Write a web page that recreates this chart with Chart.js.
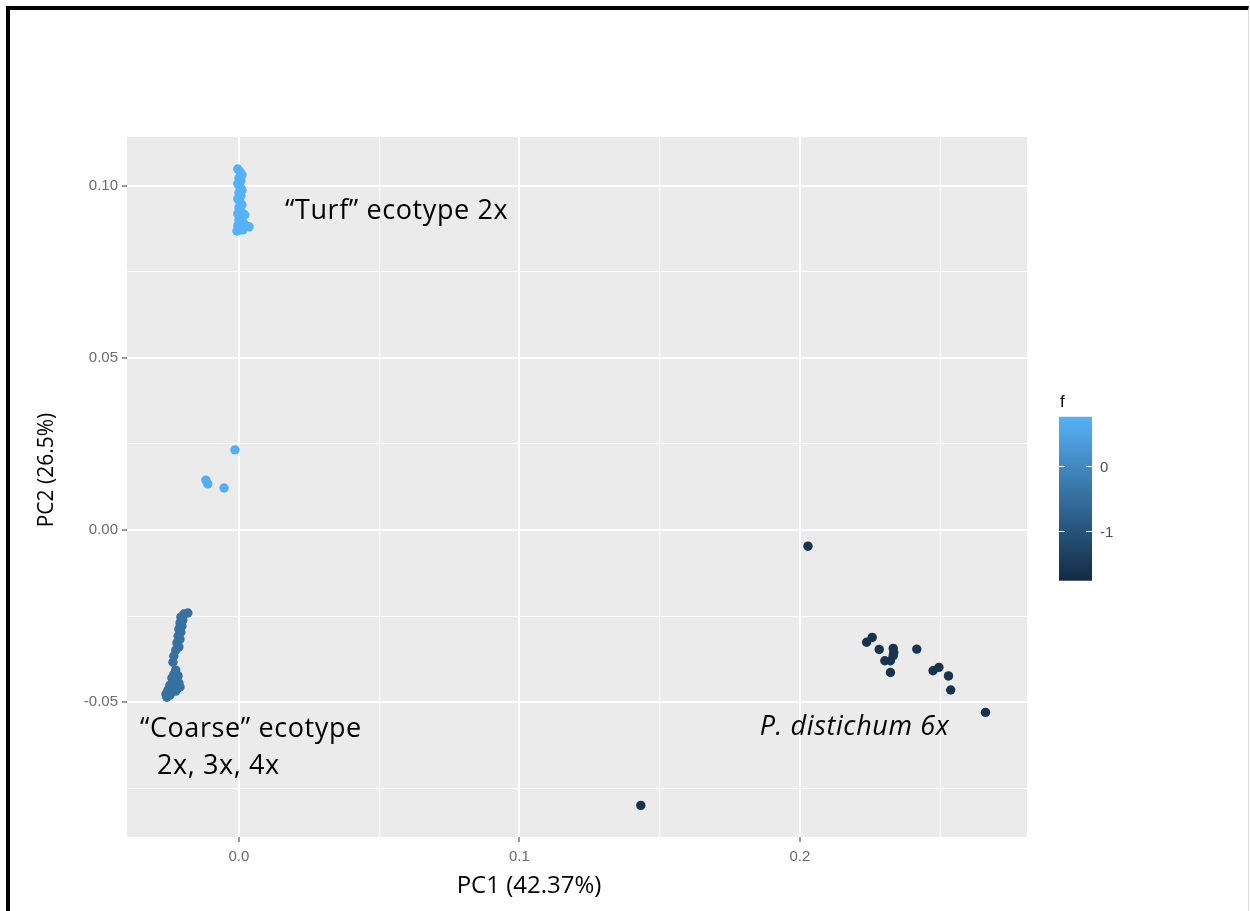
<!DOCTYPE html>
<html>
<head>
<meta charset="utf-8">
<script src="https://cdn.jsdelivr.net/npm/chart.js@4.4.1/dist/chart.umd.min.js"></script>
<style>
  body { margin: 0; background: #fff; }
  #frame {
    position: absolute; left: 6px; top: 6px; right: 1px; bottom: -10px;
    border-top: 4px solid #000; border-left: 4px solid #000; border-right: 1px solid #ddd;
  }
  #pca { position: absolute; left: 0; top: 0; }
</style>
</head>
<body>
<div id="frame"></div>
<canvas id="pca" width="1250" height="911"></canvas>
<script>
// PC1 / PC2 scores
const turfPC1 = [-0.0004, 0.0004, 0.0011, 0.0000, 0.0007, -0.0004, 0.0004, 0.0011, 0.0000, 0.0007, -0.0004, 0.0004, 0.0011, 0.0000, 0.0007, -0.0004, 0.0004, 0.0014, 0.0021, 0.0000, 0.0011, 0.0018, -0.0004, 0.0007, 0.0025, 0.0036, 0.0004, 0.0014, -0.0007];
const turfPC2 = [0.1049, 0.1041, 0.1032, 0.1023, 0.1015, 0.1006, 0.0997, 0.0988, 0.0980, 0.0971, 0.0962, 0.0953, 0.0945, 0.0936, 0.0927, 0.0919, 0.0913, 0.0910, 0.0916, 0.0901, 0.0895, 0.0890, 0.0884, 0.0878, 0.0881, 0.0881, 0.0872, 0.0872, 0.0869];

const midPC1 = [-0.0014, -0.0118, -0.0111, -0.0053];
const midPC2 = [0.0233, 0.0145, 0.0134, 0.0122];

const coarsePC1 = [-0.0182, -0.0196, -0.0207, -0.0200, -0.0210, -0.0203, -0.0214, -0.0207, -0.0217, -0.0210, -0.0221, -0.0214, -0.0225, -0.0232, -0.0235, -0.0225, -0.0232, -0.0217, -0.0239, -0.0228, -0.0214, -0.0246, -0.0232, -0.0217, -0.0253, -0.0239, -0.0225, -0.0260, -0.0246, -0.0257, -0.0210, -0.0239];
const coarsePC2 = [-0.0241, -0.0244, -0.0253, -0.0262, -0.0270, -0.0279, -0.0288, -0.0297, -0.0308, -0.0317, -0.0328, -0.0340, -0.0349, -0.0366, -0.0384, -0.0407, -0.0419, -0.0424, -0.0430, -0.0439, -0.0445, -0.0451, -0.0456, -0.0459, -0.0465, -0.0471, -0.0468, -0.0477, -0.0480, -0.0486, -0.0456, -0.0448];

const distichumPC1 = [0.2238, 0.2258, 0.2283, 0.2333, 0.2335, 0.2333, 0.2303, 0.2323, 0.2323, 0.2417, 0.2475, 0.2496, 0.2530, 0.2538, 0.2662, 0.2029, 0.1433];
const distichumPC2 = [-0.0326, -0.0312, -0.0347, -0.0344, -0.0356, -0.0365, -0.0380, -0.0380, -0.0414, -0.0346, -0.0409, -0.0399, -0.0424, -0.0465, -0.0530, -0.0047, -0.0800];

// colour variable f, one value per group
const groupF = [0.75, 0.70, -0.45, -1.62];

const xTicks = [0, 0.1, 0.2];
const xTickLabels = ['0.0', '0.1', '0.2'];
const xMinor = [0.05, 0.15, 0.25];
const yTicks = [-0.05, 0, 0.05, 0.10];
const yTickLabels = ['-0.05', '0.00', '0.05', '0.10'];
const yMinor = [-0.075, -0.025, 0.025, 0.075];

const fTicks = [0, -1];
const fTickLabels = ['0', '-1'];
const fLimits = [-1.765, 0.758];

const annotations = [
  { text: '\u201CTurf\u201D ecotype 2x', x: 0.0164, y: 0.0927, italic: false },
  { text: '\u201CCoarse\u201D ecotype', x: -0.0353, y: -0.0578, italic: false },
  { text: '2x, 3x, 4x', x: -0.0292, y: -0.0686, italic: false },
  { text: 'P. distichum 6x', x: 0.1857, y: -0.0573, italic: true }
];

const lowCol = [19, 43, 67];    // #132B43
const highCol = [86, 177, 247]; // #56B1F7

function fColour(f) {
  const t = (f - fLimits[0]) / (fLimits[1] - fLimits[0]);
  const c = lowCol.map((v, i) => Math.round(v + (highCol[i] - v) * t));
  return 'rgb(' + c.join(',') + ')';
}

function pts(xs, ys) {
  return xs.map((v, i) => ({ x: v, y: ys[i] }));
}

function near(a, list) {
  return list.findIndex(v => Math.abs(v - a) < 1e-9);
}

const groups = [pts(turfPC1, turfPC2), pts(midPC1, midPC2), pts(coarsePC1, coarsePC2), pts(distichumPC1, distichumPC2)];

const panelBg = {
  id: 'panelBg',
  beforeDraw(chart) {
    const { ctx, chartArea: a } = chart;
    ctx.save();
    ctx.fillStyle = '#EBEBEB';
    ctx.fillRect(a.left, a.top, a.right - a.left, a.bottom - a.top);
    ctx.restore();
  }
};

const extras = {
  id: 'extras',
  afterDraw(chart) {
    const { ctx, chartArea: a, scales } = chart;
    ctx.save();
    // annotations
    ctx.fillStyle = '#000';
    ctx.textBaseline = 'middle';
    ctx.textAlign = 'left';
    ctx.letterSpacing = '0.6px';
    annotations.forEach(n => {
      ctx.font = (n.italic ? 'italic ' : '') + '27px "Open Sans"';
      ctx.fillText(n.text, scales.x.getPixelForValue(n.x), scales.y.getPixelForValue(n.y));
    });
    ctx.letterSpacing = '0px';
    // axis titles
    ctx.textAlign = 'center';
    ctx.font = '24px "Open Sans"';
    ctx.fillText('PC1 (42.37%)', a.left + 402, a.bottom + 49);
    ctx.save();
    ctx.translate(a.left - 80, a.top + 333);
    ctx.rotate(-Math.PI / 2);
    ctx.font = '21px "Open Sans"';
    ctx.fillText('PC2 (26.5%)', 0, 0);
    ctx.restore();

    // colour bar
    const bx = a.right + 32, bw = 33;
    const fy = f => a.top + 329 - f * 65;
    const top = fy(fLimits[1]), bot = fy(fLimits[0]);
    const g = ctx.createLinearGradient(0, bot, 0, top);
    for (let i = 0; i <= 10; i++) g.addColorStop(i / 10, fColour(fLimits[0] + (fLimits[1] - fLimits[0]) * i / 10));
    ctx.fillStyle = g;
    ctx.fillRect(bx, top, bw, bot - top);
    ctx.strokeStyle = '#fff';
    ctx.lineWidth = 1;
    ctx.fillStyle = '#4D4D4D';
    ctx.font = '15px "Liberation Sans"';
    ctx.textAlign = 'left';
    fTicks.forEach((f, i) => {
      const y = Math.round(fy(f)) + 0.5;
      ctx.beginPath();
      ctx.moveTo(bx, y); ctx.lineTo(bx + 6, y);
      ctx.moveTo(bx + bw - 6, y); ctx.lineTo(bx + bw, y);
      ctx.stroke();
      ctx.fillText(fTickLabels[i], bx + bw + 8, y + 1);
    });
    ctx.fillStyle = '#000';
    ctx.font = '17px "Liberation Sans"';
    ctx.fillText('f', bx + 1, top - 14);
    ctx.restore();
  }
};

const tickFont = { family: 'Liberation Sans', size: 15 };

new Chart(document.getElementById('pca'), {
  type: 'scatter',
  data: {
    datasets: groups.map((d, i) => ({
      data: d,
      backgroundColor: fColour(groupF[i]),
      borderWidth: 0,
      pointRadius: 4.7,
      pointHoverRadius: 4.7
    }))
  },
  options: {
    responsive: false,
    devicePixelRatio: 1,
    animation: false,
    layout: { padding: { left: 57, top: 137, right: 223, bottom: 34 } },
    plugins: { legend: { display: false }, tooltip: { enabled: false } },
    scales: {
      x: {
        type: 'linear',
        min: -0.0399,
        max: 0.281,
        afterFit: s => { s.height = 40; },
        afterBuildTicks: s => { s.ticks = [...xTicks, ...xMinor].sort((p, q) => p - q).map(v => ({ value: v })); },
        border: { display: false },
        grid: {
          color: '#fff',
          lineWidth: c => near(c.tick.value, xTicks) >= 0 ? 2 : 1,
          tickColor: c => near(c.tick.value, xTicks) >= 0 ? '#333' : 'rgba(0,0,0,0)',
          tickLength: 5,
          tickWidth: 1
        },
        ticks: {
          autoSkip: false,
          maxRotation: 0,
          padding: 6,
          color: '#6b6b6b',
          font: tickFont,
          callback: v => { const k = near(v, xTicks); return k >= 0 ? xTickLabels[k] : ''; }
        }
      },
      y: {
        type: 'linear',
        min: -0.0892,
        max: 0.1142,
        afterFit: s => { s.width = 70; },
        afterBuildTicks: s => { s.ticks = [...yTicks, ...yMinor].sort((p, q) => p - q).map(v => ({ value: v })); },
        border: { display: false },
        grid: {
          color: '#fff',
          lineWidth: c => near(c.tick.value, yTicks) >= 0 ? 2 : 1,
          tickColor: c => near(c.tick.value, yTicks) >= 0 ? '#333' : 'rgba(0,0,0,0)',
          tickLength: 5,
          tickWidth: 1
        },
        ticks: {
          autoSkip: false,
          padding: 4,
          color: '#6b6b6b',
          font: tickFont,
          callback: v => { const k = near(v, yTicks); return k >= 0 ? yTickLabels[k] : ''; }
        }
      }
    }
  },
  plugins: [panelBg, extras]
});
</script>
</body>
</html>
